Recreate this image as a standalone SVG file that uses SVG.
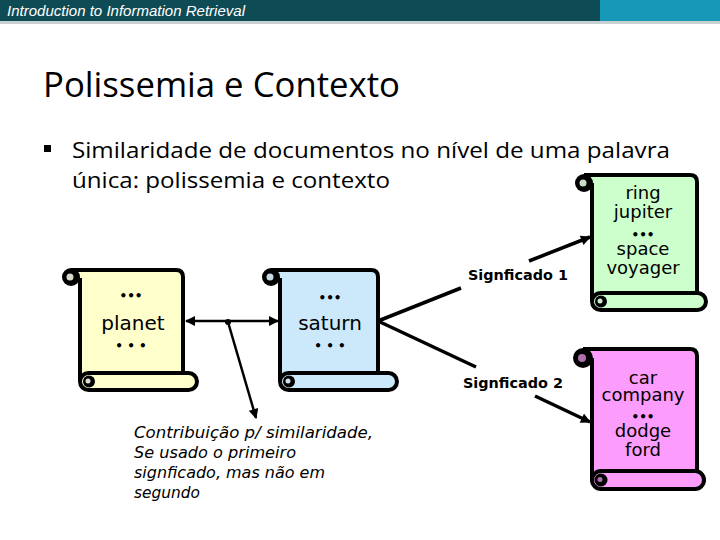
<svg xmlns="http://www.w3.org/2000/svg" width="720" height="540" viewBox="0 0 720 540">
<style>
.ol{stroke:#000;stroke-width:4;stroke-linejoin:round}
.st{font-family:"DejaVu Sans","Noto Sans",sans-serif;fill:#000;text-anchor:middle}
.dt{font-family:"DejaVu Sans","Noto Sans",sans-serif;fill:#000;text-anchor:middle;font-size:12px;font-weight:bold}
.ln{stroke:#000;fill:none}
.lbl{font-family:"DejaVu Sans","Noto Sans",sans-serif;font-weight:bold;font-size:14px;fill:#000}
.ann{font-family:"DejaVu Sans","Noto Sans",sans-serif;font-style:italic;font-size:15px;fill:#000}
</style>
<defs>
<marker id="ah" viewBox="0 0 10 10" refX="9" refY="5" markerWidth="11" markerHeight="10" markerUnits="userSpaceOnUse" orient="auto-start-reverse">
<path d="M0,0 L10,5 L0,10 Z" fill="#000"/>
</marker>
</defs>
<rect width="720" height="540" fill="#fff"/>
<g id="header">
<rect x="0" y="0" width="600" height="21" fill="#0f4b55"/>
<rect x="600" y="0" width="120" height="21" fill="#1699b6"/>
<rect x="0" y="21" width="720" height="3" fill="#c9d1d3"/>
<text x="7" y="16" font-family="'Liberation Sans',Arial,sans-serif" font-style="italic" font-size="14" fill="#fff" textLength="238" lengthAdjust="spacingAndGlyphs">Introduction to Information Retrieval</text>
</g>
<g id="title">
<text x="43" y="97" font-family="'Open Sans','Noto Sans',sans-serif" font-size="34" fill="#000" textLength="357" lengthAdjust="spacingAndGlyphs">Polissemia e Contexto</text>
</g>
<g id="bullet">
<rect x="44" y="145" width="7" height="7" fill="#000"/>
<text x="72" y="158" font-family="'Open Sans','Noto Sans',sans-serif" font-size="22.5" fill="#000" textLength="598" lengthAdjust="spacingAndGlyphs">Similaridade de documentos no nível de uma palavra</text>
<text x="72" y="188" font-family="'Open Sans','Noto Sans',sans-serif" font-size="22.5" fill="#000" textLength="318" lengthAdjust="spacingAndGlyphs">única: polissemia e contexto</text>
</g>
<g id="connectors">
<line class="ln" x1="186" y1="321" x2="278" y2="321" stroke-width="2.5" marker-start="url(#ah)" marker-end="url(#ah)"/>
<circle cx="228" cy="322" r="3" fill="#000"/>
<line class="ln" x1="228" y1="322" x2="256" y2="418" stroke-width="2.5" marker-end="url(#ah)"/>
<line class="ln" x1="378" y1="321" x2="461" y2="288" stroke-width="3.5"/>
<line class="ln" x1="529" y1="261" x2="590" y2="237" stroke-width="3.5" marker-end="url(#ah)"/>
<line class="ln" x1="378" y1="321" x2="476" y2="367" stroke-width="3.5"/>
<line class="ln" x1="535" y1="396" x2="590" y2="422" stroke-width="3.5" marker-end="url(#ah)"/>
<text class="lbl" x="468" y="280" textLength="100" lengthAdjust="spacingAndGlyphs">Signficado 1</text>
<text class="lbl" x="463" y="388" textLength="100" lengthAdjust="spacingAndGlyphs">Signficado 2</text>
</g>
<g id="planet">
<path class="ol" d="M71,270 H176 Q183,270 183,277 V380 H80 V278" fill="#ffffcc"/>
<circle cx="71" cy="277" r="9" fill="#000"/>
<circle cx="70" cy="277" r="3.5" fill="#d8d8c8"/>
<rect class="ol" x="80" y="373" width="117" height="17" rx="8.5" fill="#ffffcc"/>
<circle cx="89" cy="381.5" r="6" fill="#000"/>
<circle cx="88" cy="381" r="2.5" fill="#e0e0d0"/>
<text class="dt" x="131" y="300">•••</text>
<text class="st" x="133" y="330" font-size="20">planet</text>
<text class="dt" x="131" y="350">• • •</text>
</g>
<g id="saturn">
<path class="ol" d="M271,270 H371 Q378,270 378,277 V380 H280 V278" fill="#cce8fb"/>
<circle cx="271" cy="277" r="9" fill="#000"/>
<circle cx="270" cy="277" r="3.5" fill="#c8d8e0"/>
<rect class="ol" x="280" y="373" width="117" height="17" rx="8.5" fill="#cce8fb"/>
<circle cx="289" cy="381.5" r="6" fill="#000"/>
<circle cx="288" cy="381" r="2.5" fill="#d0e0e8"/>
<text class="dt" x="330" y="302">•••</text>
<text class="st" x="330" y="330" font-size="20">saturn</text>
<text class="dt" x="330" y="350">• • •</text>
</g>
<g id="meaning1">
<path class="ol" d="M584,175 H690 Q697,175 697,182 V300 H592 V183" fill="#ccffcc"/>
<circle cx="584" cy="183" r="9" fill="#000"/>
<circle cx="583" cy="183" r="3.5" fill="#c8dcc8"/>
<rect class="ol" x="592" y="293" width="114" height="17" rx="8.5" fill="#ccffcc"/>
<circle cx="601" cy="301.5" r="6" fill="#000"/>
<circle cx="600" cy="301" r="2.5" fill="#d0e8d0"/>
<text class="st" x="643" y="199" font-size="18">ring</text>
<text class="st" x="643" y="218" font-size="18">jupiter</text>
<text class="dt" x="643" y="239">•••</text>
<text class="st" x="643" y="255" font-size="18">space</text>
<text class="st" x="643" y="274" font-size="18">voyager</text>
</g>
<g id="meaning2">
<path class="ol" d="M583,349 H690 Q697,349 697,356 V479 H592 V358" fill="#fc9cfc"/>
<circle cx="583" cy="358" r="10" fill="#000"/>
<circle cx="582" cy="358" r="4" fill="#b070b0"/>
<rect class="ol" x="592" y="471" width="112" height="18" rx="9" fill="#fc9cfc"/>
<circle cx="601" cy="480" r="6.5" fill="#000"/>
<circle cx="600" cy="479.5" r="2.5" fill="#b070b0"/>
<text class="st" x="643" y="384" font-size="18">car</text>
<text class="st" x="643" y="401" font-size="18">company</text>
<text class="dt" x="643" y="421">•••</text>
<text class="st" x="643" y="437" font-size="18">dodge</text>
<text class="st" x="643" y="456" font-size="18">ford</text>
</g>
<g id="annotation">
<text class="ann" x="134" y="438" textLength="239" lengthAdjust="spacingAndGlyphs">Contribuição p/ similaridade,</text>
<text class="ann" x="134" y="458" textLength="162" lengthAdjust="spacingAndGlyphs">Se usado o primeiro</text>
<text class="ann" x="134" y="478" textLength="191" lengthAdjust="spacingAndGlyphs">signficado, mas não em</text>
<text class="ann" x="134" y="498" textLength="66" lengthAdjust="spacingAndGlyphs">segundo</text>
</g>
</svg>
